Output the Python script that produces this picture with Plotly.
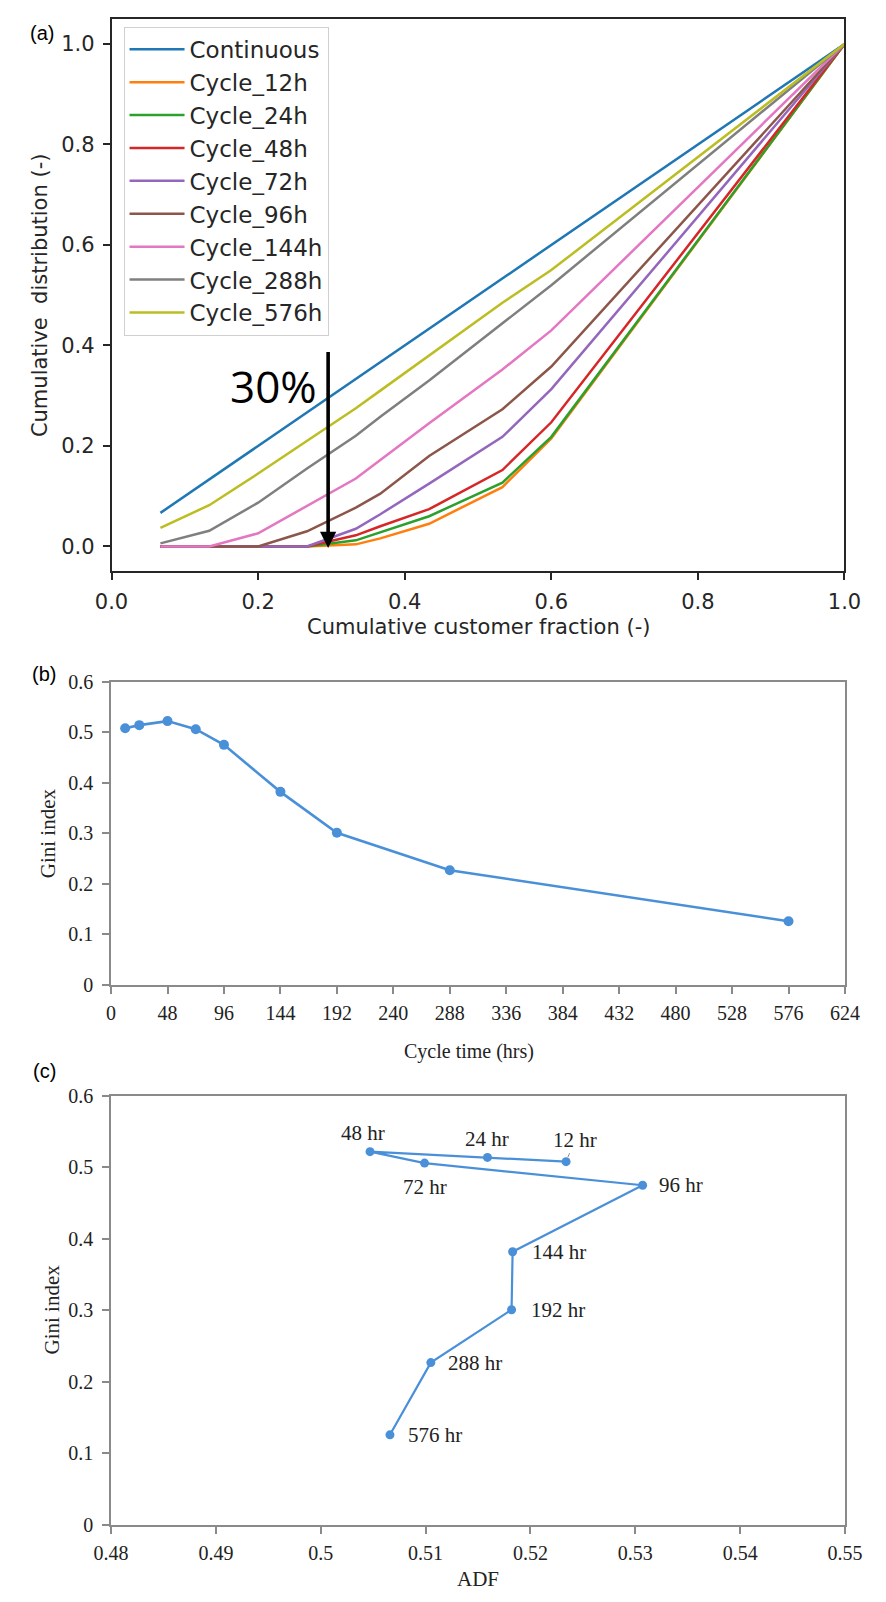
import plotly.graph_objects as go

W, H = 886, 1602

# ---------------- Panel (a) data ----------------
cust_frac = [0.0667, 0.1333, 0.2, 0.2667, 0.3333, 0.3667, 0.4333, 0.5333, 0.6, 1.0]
continuous = [0.0667, 0.1333, 0.2, 0.2667, 0.3333, 0.3667, 0.4333, 0.5333, 0.6, 1.0]
cycle_12h = [0, 0, 0, 0, 0.004, 0.016, 0.045, 0.118, 0.215, 1.0]
cycle_24h = [0, 0, 0, 0, 0.012, 0.028, 0.060, 0.127, 0.218, 1.0]
cycle_48h = [0, 0, 0, 0, 0.022, 0.040, 0.074, 0.152, 0.247, 1.0]
cycle_72h = [0, 0, 0, 0, 0.035, 0.064, 0.125, 0.218, 0.313, 1.0]
cycle_96h = [0, 0, 0, 0.030, 0.077, 0.105, 0.180, 0.273, 0.358, 1.0]
cycle_144h = [0, 0, 0.026, 0.080, 0.135, 0.172, 0.245, 0.352, 0.430, 1.0]
cycle_288h = [0.006, 0.031, 0.087, 0.155, 0.220, 0.258, 0.330, 0.445, 0.520, 1.0]
cycle_576h = [0.037, 0.082, 0.145, 0.210, 0.275, 0.310, 0.380, 0.485, 0.550, 1.0]

series_names = ["Continuous", "Cycle_12h", "Cycle_24h", "Cycle_48h", "Cycle_72h",
                "Cycle_96h", "Cycle_144h", "Cycle_288h", "Cycle_576h"]
series_values = [continuous, cycle_12h, cycle_24h, cycle_48h, cycle_72h,
                 cycle_96h, cycle_144h, cycle_288h, cycle_576h]
series_colors = ["#1f77b4", "#ff7f0e", "#2ca02c", "#d62728", "#9467bd",
                 "#8c564b", "#e377c2", "#7f7f7f", "#bcbd22"]

arrow_x = 0.2955
arrow_top = 0.39
arrow_label = "30%"

# ---------------- Panel (b) data ----------------
cycle_hours = [12, 24, 48, 72, 96, 144, 192, 288, 576]
gini = [0.508, 0.514, 0.522, 0.506, 0.475, 0.382, 0.301, 0.227, 0.126]

# ---------------- Panel (c) data ----------------
adf = [0.5234, 0.5159, 0.5047, 0.5099, 0.5307, 0.5183, 0.5182, 0.5105, 0.5066]
point_labels = ["12 hr", "24 hr", "48 hr", "72 hr", "96 hr", "144 hr", "192 hr", "288 hr", "576 hr"]

# ---------------- layout helpers ----------------
def px_x(x):
    return x / W

def px_y(y):
    return 1 - y / H

BLUE = "#4A90D9"
SANS = "DejaVu Sans"
SERIF = "Liberation Serif"
DARK = "#262626"
GREY_AX = "#8a8a8a"

fig = go.Figure()

for name, vals, col in zip(series_names, series_values, series_colors):
    fig.add_trace(go.Scatter(
        x=cust_frac, y=vals, mode="lines", name=name,
        line=dict(color=col, width=2.5),
        xaxis="x", yaxis="y", showlegend=True))

fig.add_trace(go.Scatter(
    x=cycle_hours, y=gini, mode="lines+markers",
    line=dict(color=BLUE, width=2.6), marker=dict(color=BLUE, size=10),
    xaxis="x2", yaxis="y2", showlegend=False))

fig.add_trace(go.Scatter(
    x=adf, y=gini, mode="lines+markers",
    line=dict(color=BLUE, width=2.2), marker=dict(color=BLUE, size=9),
    xaxis="x3", yaxis="y3", showlegend=False))

annotations = []

# arrow + 30%
annotations.append(dict(
    x=arrow_x, y=-0.003, ax=arrow_x, ay=arrow_top, xref="x", yref="y",
    axref="x", ayref="y", text="", showarrow=True, arrowhead=2,
    arrowsize=0.9, arrowwidth=3.6, arrowcolor="black"))
annotations.append(dict(
    x=0.221, y=0.319, xref="x", yref="y", text=arrow_label, showarrow=False,
    font=dict(family="Open Sans", size=44, color="black")))

# panel (c) point labels
label_style = [
    dict(dx=9, dy=-22, anchor="center", arrow=True),
    dict(dx=0, dy=-18, anchor="center", arrow=False),
    dict(dx=-7, dy=-19, anchor="center", arrow=False),
    dict(dx=0, dy=24, anchor="center", arrow=False),
    dict(dx=14, dy=0, anchor="left", arrow=False),
    dict(dx=17, dy=0, anchor="left", arrow=False),
    dict(dx=17, dy=0, anchor="left", arrow=False),
    dict(dx=15, dy=0, anchor="left", arrow=False),
    dict(dx=16, dy=0, anchor="left", arrow=False),
]
for xv, yv, lab, st in zip(adf, gini, point_labels, label_style):
    if st["arrow"]:
        annotations.append(dict(
            x=xv, y=yv, xref="x3", yref="y3", text=lab, showarrow=True,
            ax=st["dx"], ay=st["dy"], arrowhead=0, arrowwidth=1,
            arrowcolor="#8a8a8a", standoff=5,
            font=dict(family=SERIF, size=21, color="#222222")))
    else:
        annotations.append(dict(
            x=xv, y=yv, xref="x3", yref="y3", text=lab, showarrow=False,
            xanchor=st["anchor"], yanchor="middle",
            xshift=st["dx"], yshift=-st["dy"],
            font=dict(family=SERIF, size=21, color="#222222")))

# axis titles & panel tags
def txt(x, y, s, fam, size, angle=0, color=DARK):
    annotations.append(dict(
        x=px_x(x), y=px_y(y), xref="paper", yref="paper", text=s,
        showarrow=False, textangle=angle, xanchor="center", yanchor="middle",
        font=dict(family=fam, size=size, color=color)))

txt(25, 22, "(a)", "Liberation Sans", 20, color="black")
txt(27, 672, "(b)", "Liberation Sans", 20, color="black")
txt(28, 1075, "(c)", "Liberation Sans", 20, color="black")
txt(479.5, 625, "Cumulative customer fraction (-)", SANS, 21)
txt(23, 288, "Cumulative  distribution (-)", SANS, 21, angle=-90)
txt(470, 1055, "Cycle time (hrs)", SERIF, 20, color="#222222")
txt(31, 834, "Gini index", SERIF, 21, angle=-90, color="#222222")
txt(480, 1590, "ADF", SERIF, 21, color="#222222")
txt(35, 1317, "Gini index", SERIF, 21, angle=-90, color="#222222")

xa_dom = [px_x(97.5), px_x(861.5)]

common_a = dict(showline=True, linecolor=DARK, linewidth=1.5, mirror=True,
                ticks="outside", ticklen=7, tickwidth=1.5, tickcolor=DARK,
                showgrid=False, zeroline=False,
                tickfont=dict(family=SANS, size=21, color=DARK))
common_bc = dict(showline=True, linecolor=GREY_AX, linewidth=1.8, mirror=True,
                 ticks="outside", ticklen=7, tickwidth=1.5, tickcolor=GREY_AX,
                 showgrid=False, zeroline=False,
                 tickfont=dict(family=SERIF, size=20, color="#222222"))

fig.update_layout(
    width=W, height=H, margin=dict(l=0, r=0, t=0, b=0),
    paper_bgcolor="white", plot_bgcolor="white",
    xaxis=dict(domain=xa_dom, range=[0, 1], tick0=0, dtick=0.2, tickformat=".1f",
               anchor="y", ticklabelstandoff=4, **common_a),
    yaxis=dict(domain=[px_y(568.3), px_y(8)], range=[-0.05, 1.05], tick0=0, dtick=0.2,
               tickformat=".1f", anchor="x", ticklabelstandoff=4, **common_a),
    xaxis2=dict(domain=[px_x(97), px_x(862)], range=[0, 624], tick0=0, dtick=48,
                anchor="y2", ticklabelstandoff=2, **common_bc),
    yaxis2=dict(domain=[px_y(987.5), px_y(680)], range=[0, 0.6], tick0=0, dtick=0.1,
                anchor="x2", ticklabelstandoff=5, **common_bc),
    xaxis3=dict(domain=[px_x(97), px_x(862)], range=[0.48, 0.55], tick0=0.48, dtick=0.01,
                anchor="y3", ticklabelstandoff=2, **common_bc),
    yaxis3=dict(domain=[px_y(1535), px_y(1100)], range=[0, 0.6], tick0=0, dtick=0.1,
                anchor="x3", ticklabelstandoff=5, **common_bc),
    legend=dict(x=px_x(110), y=px_y(16), xanchor="left", yanchor="top",
                bgcolor="rgba(255,255,255,0.9)", bordercolor="#d0d0d0", borderwidth=1,
                font=dict(family=SANS, size=23, color=DARK),
                itemwidth=55),
    annotations=annotations,
)

fig.write_html("out.html")
